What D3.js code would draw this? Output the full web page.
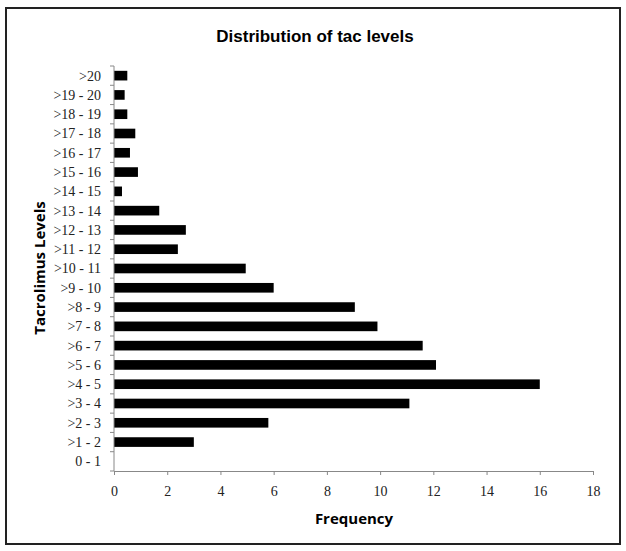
<!DOCTYPE html>
<html>
<head>
<meta charset="utf-8">
<script src="https://cdn.jsdelivr.net/npm/d3@7"></script>
<style>
  body { margin: 0; background: #fff; }
  svg { display: block; }
</style>
</head>
<body>
<svg id="chart" width="626" height="551"></svg>
<script>
// tac level bins, top of chart first
var levels = ['>20', '>19 - 20', '>18 - 19', '>17 - 18', '>16 - 17', '>15 - 16', '>14 - 15',
              '>13 - 14', '>12 - 13', '>11 - 12', '>10 - 11', '>9 - 10', '>8 - 9', '>7 - 8',
              '>6 - 7', '>5 - 6', '>4 - 5', '>3 - 4', '>2 - 3', '>1 - 2', '0 - 1']
var frequency = [0.5, 0.4, 0.5, 0.8, 0.6, 0.9, 0.3,
                 1.7, 2.7, 2.4, 4.95, 6.0, 9.05, 9.9,
                 11.6, 12.1, 16.0, 11.1, 5.8, 3.0, 0]
var xTicks = [0, 2, 4, 6, 8, 10, 12, 14, 16, 18]

var svg = d3.select('#chart')

// outer frame
svg.append('rect')
    .attr('x', 6).attr('y', 8)
    .attr('width', 614).attr('height', 536)
    .attr('fill', 'none')
    .attr('stroke', '#222')
    .attr('stroke-width', 2)

var plotL = 114, plotR = 593, plotT = 66, plotB = 471

var x = d3.scaleLinear().domain([0, 18]).range([plotL, plotR])
var y = d3.scaleBand().domain(levels).range([plotT, plotB]).paddingInner(0.5).paddingOuter(0.25)

var data = levels.map(function(l, i){ return {level: l, value: frequency[i]} })

svg.append('g').selectAll('rect')
    .data(data)
    .enter()
    .append('rect')
    .attr('x', x(0))
    .attr('y', function(d){ return y(d.level) })
    .attr('height', y.bandwidth())
    .attr('width', function(d){ return x(d.value) - x(0) })
    .attr('fill', '#000')

// x axis
var xAxis = svg.append('g')
    .attr('transform', 'translate(0,' + plotB + ')')
    .call(d3.axisBottom(x).tickValues(xTicks).tickSize(4).tickPadding(11))
xAxis.select('.domain').attr('stroke', '#888')
xAxis.selectAll('.tick line').attr('stroke', '#888')
xAxis.selectAll('text')
    .attr('font-family', 'Liberation Serif')
    .attr('font-size', 14)
    .attr('fill', '#222')

// y axis: line + ticks at band boundaries
var step = (plotB - plotT) / levels.length
var yAxis = svg.append('g')
yAxis.append('line')
    .attr('x1', plotL).attr('x2', plotL)
    .attr('y1', plotT).attr('y2', plotB)
    .attr('stroke', '#888')
yAxis.selectAll('line.tk')
    .data(d3.range(levels.length + 1))
    .enter()
    .append('line')
    .attr('class', 'tk')
    .attr('x1', plotL - 4).attr('x2', plotL)
    .attr('y1', function(i){ return plotT + i * step })
    .attr('y2', function(i){ return plotT + i * step })
    .attr('stroke', '#888')
yAxis.selectAll('text')
    .data(levels)
    .enter()
    .append('text')
    .attr('x', 101)
    .attr('y', function(d){ return y(d) + y.bandwidth() / 2 })
    .attr('dy', '0.35em')
    .attr('text-anchor', 'end')
    .attr('font-family', 'Liberation Serif')
    .attr('font-size', 14)
    .attr('fill', '#222')
    .text(function(d){ return d })

// title and axis titles
svg.append('text')
    .attr('x', 315).attr('y', 42)
    .attr('text-anchor', 'middle')
    .attr('font-family', 'Liberation Sans, Arial')
    .attr('font-weight', 'bold')
    .attr('font-size', 17)
    .text('Distribution of tac levels')

svg.append('text')
    .attr('x', 354).attr('y', 524)
    .attr('text-anchor', 'middle')
    .attr('font-family', 'Open Sans')
    .attr('font-weight', 'bold')
    .attr('font-size', 15)
    .text('Frequency')

svg.append('text')
    .attr('transform', 'translate(45,268) rotate(-90)')
    .attr('text-anchor', 'middle')
    .attr('font-family', 'Open Sans')
    .attr('font-weight', 'bold')
    .attr('font-size', 15)
    .text('Tacrolimus Levels')
</script>
</body>
</html>
